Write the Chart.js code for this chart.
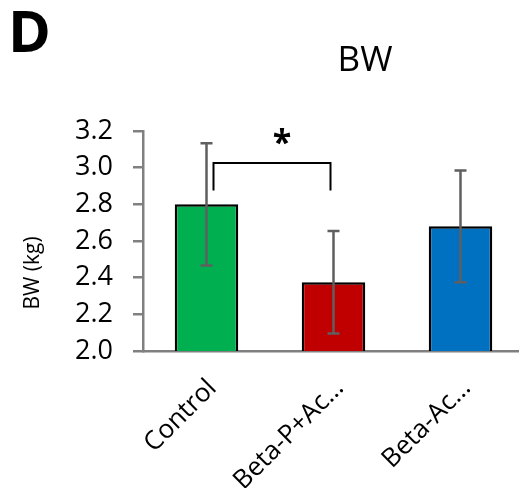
<!DOCTYPE html>
<html>
<head>
<meta charset="utf-8">
<script src="https://cdn.jsdelivr.net/npm/chart.js@4"></script>
<style>
html,body{margin:0;padding:0;background:#fff;overflow:hidden;width:519px;height:488px;}
#wrap{width:530px;height:488px;}
</style>
</head>
<body>
<div id="wrap"><canvas id="c" width="530" height="488"></canvas></div>
<script>
const categories = ['Control', 'Beta-P+Ac\u2026', 'Beta-Ac\u2026'];
const meanBW = [2.80, 2.375, 2.68];
const errBW = [0.333, 0.28, 0.305];
const barColors = ['#00B050', '#C00000', '#0070C0'];
const yTicks = [2.0, 2.2, 2.4, 2.6, 2.8, 3.0, 3.2];
const sigFrom = 0, sigTo = 1, sigTop = 3.025, sigBottom = 2.875, sigLabel = '*';
const panelLabel = 'D';
const chartTitle = 'BW';
const yTitle = 'BW (kg)';

const FONT = "'Open Sans', 'Liberation Sans', sans-serif";

const overlay = {
  id: 'overlay',
  afterDatasetsDraw(chart) {
    const ctx = chart.ctx;
    const y = chart.scales.y;
    const meta = chart.getDatasetMeta(0);
    ctx.save();
    ctx.strokeStyle = '#5f5f5f';
    ctx.lineWidth = 2.5;
    meta.data.forEach((bar, i) => {
      const x = bar.x;
      const hi = y.getPixelForValue(meanBW[i] + errBW[i]);
      const lo = y.getPixelForValue(meanBW[i] - errBW[i]);
      ctx.beginPath();
      ctx.moveTo(x, hi); ctx.lineTo(x, lo);
      ctx.moveTo(x - 6, hi); ctx.lineTo(x + 6, hi);
      ctx.moveTo(x - 6, lo); ctx.lineTo(x + 6, lo);
      ctx.stroke();
    });
    const x1 = meta.data[sigFrom].x + 7;
    const x2 = meta.data[sigTo].x - 3;
    const yt = y.getPixelForValue(sigTop);
    const yb = y.getPixelForValue(sigBottom);
    ctx.strokeStyle = '#000';
    ctx.lineWidth = 2;
    ctx.beginPath();
    ctx.moveTo(x1, yb); ctx.lineTo(x1, yt); ctx.lineTo(x2, yt); ctx.lineTo(x2, yb);
    ctx.stroke();
    ctx.fillStyle = '#000';
    ctx.font = 'bold 34px ' + FONT;
    ctx.textAlign = 'center';
    ctx.textBaseline = 'alphabetic';
    ctx.fillText(sigLabel, (x1 + x2) / 2 + 10, yt - 9);
    ctx.restore();
  },
  afterDraw(chart) {
    const ctx = chart.ctx;
    ctx.save();
    ctx.fillStyle = '#000';
    ctx.textBaseline = 'alphabetic';
    ctx.textAlign = 'left';
    ctx.font = 'bold 58px ' + FONT;
    ctx.fillText(panelLabel, 8, 52);
    ctx.textAlign = 'center';
    ctx.font = '35px ' + FONT;
    ctx.fillText(chartTitle, 365, 71);
    ctx.translate(33, 273);
    ctx.rotate(-Math.PI / 2);
    ctx.textBaseline = 'middle';
    ctx.font = '21px ' + FONT;
    ctx.fillText(yTitle, 0, 0);
    ctx.restore();
  }
};

new Chart(document.getElementById('c'), {
  type: 'bar',
  data: {
    labels: categories,
    datasets: [{
      data: meanBW,
      backgroundColor: barColors,
      borderColor: '#000',
      borderWidth: 2.5,
      borderSkipped: false,
      barPercentage: 0.5,
      categoryPercentage: 1.0
    }]
  },
  options: {
    responsive: false,
    animation: false,
    devicePixelRatio: 1,
    layout: { padding: { left: 0, right: 6, top: 131, bottom: 0 } },
    plugins: { legend: { display: false }, title: { display: false }, tooltip: { enabled: false } },
    scales: {
      x: {
        afterFit(s) { s.height = 137; },
        grid: { display: false },
        border: { display: true, color: '#808080', width: 2.5 },
        ticks: {
          color: '#000',
          font: { family: FONT, size: 26 },
          minRotation: 45, maxRotation: 45,
          padding: 14,
          labelOffset: 6
        }
      },
      y: {
        min: 2.0, max: 3.2,
        afterFit(s) { s.width = 143; },
        afterBuildTicks(s) { s.ticks = yTicks.map(v => ({ value: v })); },
        grid: { drawOnChartArea: false, drawTicks: true, tickLength: 10, color: '#808080', lineWidth: 2.5 },
        border: { display: true, color: '#808080', width: 2.5 },
        ticks: {
          color: '#000',
          font: { family: FONT, size: 27 },
          padding: 20,
          callback: v => Number(v).toFixed(1)
        }
      }
    }
  },
  plugins: [overlay]
});
</script>
</body>
</html>
